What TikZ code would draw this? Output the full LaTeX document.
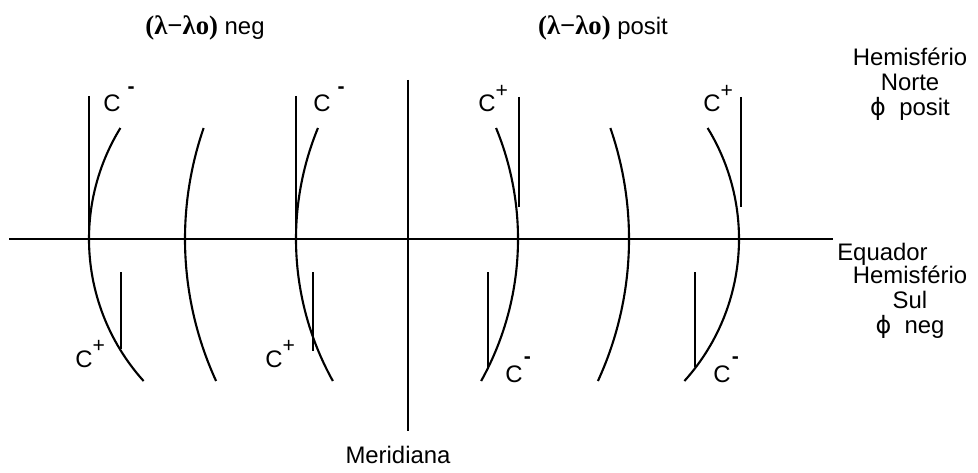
\documentclass[tikz,border=0pt]{standalone}
\usepackage{fontspec}
\setmainfont{Liberation Sans}
\newfontfamily\symserif{Liberation Serif}
\newfontfamily\phifont{DejaVu Sans}

% C with a raised sign
\newcommand{\cplus}{C\raisebox{10pt}{\fontsize{15}{15}\selectfont+}}
\newcommand{\cminus}[1]{C\kern#1\raisebox{13.5pt}{\fontsize{15}{15}\selectfont\textbf{-}}}

\begin{document}
\begin{tikzpicture}[
  axis/.style={line width=1.5pt},
  meridarc/.style={line width=1.5pt},
  tick/.style={line width=1.5pt},
  sign/.style={
    font=\fontsize{17}{17}\selectfont, inner sep=0pt, anchor=base west
  },
  lbl/.style={
    font=\fontsize{17}{18}\selectfont, align=center, inner sep=0pt
  },
]
\useasboundingbox (0,0) rectangle (24.45,11.8);

% Equator and meridian
\coordinate (eqW) at (0.225,5.825);
\coordinate (eqE) at (20.825,5.825);
\coordinate (merN) at (10.2,9.8);
\coordinate (merS) at (10.2,1.025);
\draw[axis] (eqW) -- (eqE);
\draw[axis] (merN) -- (merS);

% Arcs west of the meridian
\draw[meridarc] (2.225,5.825) arc[start angle=180, delta angle=-31.57, radius=5.3]
                (2.225,5.825) arc[start angle=180, delta angle=42.05, radius=5.3];
\draw[meridarc] (4.625,5.825) arc[start angle=180, delta angle=-19.06, radius=8.5]
                (4.625,5.825) arc[start angle=180, delta angle=24.69, radius=8.5];
\draw[meridarc] (7.4,5.825) arc[start angle=180, delta angle=-22.34, radius=7.3]
                (7.4,5.825) arc[start angle=180, delta angle=29.10, radius=7.3];

% Arcs east of the meridian
\draw[meridarc] (12.95,5.825) arc[start angle=0, delta angle=22.34, radius=7.3]
                (12.95,5.825) arc[start angle=0, delta angle=-29.10, radius=7.3];
\draw[meridarc] (15.725,5.825) arc[start angle=0, delta angle=19.06, radius=8.5]
                (15.725,5.825) arc[start angle=0, delta angle=-24.69, radius=8.5];
\draw[meridarc] (18.475,5.825) arc[start angle=0, delta angle=31.57, radius=5.3]
                (18.475,5.825) arc[start angle=0, delta angle=-42.05, radius=5.3];

% Vertical ticks, north
\draw[tick] (2.225,9.4) -- (2.225,5.825);
\draw[tick] (7.4,9.4) -- (7.4,5.825);
\draw[tick] (12.975,9.375) -- (12.975,6.625);
\draw[tick] (18.525,9.375) -- (18.525,6.625);

% Vertical ticks, south
\draw[tick] (3.025,5.0) -- (3.025,3.075);
\draw[tick] (7.825,5.0) -- (7.825,3.025);
\draw[tick] (12.2,5.0) -- (12.2,2.625);
\draw[tick] (17.375,5.0) -- (17.375,2.625);

% Sign labels
\node[sign] (cnw1) at (2.575,9.0) {\cminus{5pt}};
\node[sign] (cnw2) at (7.825,9.0) {\cminus{5pt}};
\node[sign] (cne1) at (11.95,9.0) {\cplus};
\node[sign] (cne2) at (17.575,9.0) {\cplus};
\node[sign] (csw1) at (1.875,2.625) {\cplus};
\node[sign] (csw2) at (6.625,2.625) {\cplus};
\node[sign] (cse1) at (12.625,2.25) {\cminus{1pt}};
\node[sign] (cse2) at (17.825,2.25) {\cminus{1pt}};

% Longitude headers
\node[lbl] (lneg) at (5.125,11.1) {{\symserif\bfseries\fontsize{19}{19}\selectfont (λ−λo)} neg};
\node[lbl] (lpos) at (15.075,11.1) {{\symserif\bfseries\fontsize{19}{19}\selectfont (λ−λo)} posit};

% Hemisphere labels
\node[lbl] (hnorte) at (22.75,9.7) {Hemisfério\\Norte\\{\phifont ϕ}\ \ posit};
\node[lbl] (hsul) at (22.75,4.25) {Hemisfério\\Sul\\{\phifont ϕ}\ \ neg};

% Line names
\node[lbl, anchor=north west, inner sep=0.1cm] (equador) at (eqE) {Equador};
\node[lbl, anchor=base] (meridiana) at (9.95,0.225) {Meridiana};

\end{tikzpicture}
\end{document}
